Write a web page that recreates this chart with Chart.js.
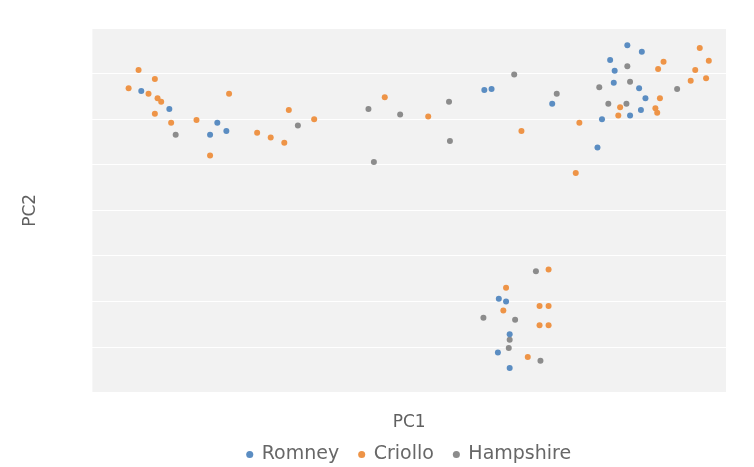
<!DOCTYPE html>
<html>
<head>
<meta charset="utf-8">
<script src="https://cdn.jsdelivr.net/npm/chart.js@4/dist/chart.umd.min.js"></script>
<style>
html,body{margin:0;padding:0;background:#fff;}
#wrap{width:754px;height:467px;}
</style>
</head>
<body>
<div id="wrap"><canvas id="c" width="754" height="467"></canvas></div>
<script>
const seriesNames = ["Romney", "Criollo", "Hampshire"];
const seriesColors = ["#5b8dc2", "#ee9447", "#8c8c8c"];

const romneyPC1 = [-2.96,-2.65,-2.12,-2.20,-2.02,0.83,0.91,1.58,2.08,2.41,2.57,2.22,2.27,2.26,2.54,2.61,2.56,2.44,2.13,0.99,1.07,1.11,1.11,0.98];
const romneyPC2 = [1.31,1.11,0.96,0.83,0.87,1.32,1.33,1.17,0.69,1.81,1.74,1.65,1.53,1.40,1.34,1.23,1.10,1.04,1.00,-0.97,-1.00,-1.36,-1.73,-1.56];

const criolloPC1 = [-2.99,-3.10,-2.88,-2.81,-2.78,-2.74,-2.81,-2.63,-2.35,-1.99,-1.68,-1.53,-1.38,-1.05,-0.27,0.21,1.24,1.88,1.84,2.81,2.75,2.77,3.21,3.31,3.16,3.11,3.28,2.33,2.31,2.72,2.74,-2.20,-1.33,1.54,1.07,1.04,1.44,1.54,1.44,1.54,1.31];
const criolloPC2 = [1.54,1.34,1.28,1.44,1.23,1.19,1.06,0.96,0.99,1.28,0.85,0.80,0.74,1.00,1.24,1.03,0.87,0.96,0.41,1.63,1.55,1.23,1.78,1.64,1.54,1.42,1.45,1.13,1.04,1.12,1.07,0.60,1.10,-0.65,-0.85,-1.10,-1.05,-1.05,-1.26,-1.26,-1.61];

const hampshirePC1 = [-2.58,-1.23,-0.45,-0.39,-0.10,0.44,0.45,1.16,1.63,2.41,2.10,2.44,2.96,2.20,2.40,1.40,0.82,1.17,1.11,1.10,1.45];
const hampshirePC2 = [0.83,0.93,1.11,0.53,1.05,1.19,0.76,1.49,1.28,1.58,1.35,1.41,1.33,1.17,1.17,-0.67,-1.18,-1.20,-1.42,-1.51,-1.65];

const axisTitles = {x: "PC1", y: "PC2"};

function toPoints(xs, ys){ return xs.map((x,i)=>({x:x, y:ys[i]})); }

const dataSeries = [
  toPoints(romneyPC1, romneyPC2),
  toPoints(criolloPC1, criolloPC2),
  toPoints(hampshirePC1, hampshirePC2)
];

const plotBg = {
  id: 'plotBg',
  beforeDraw(chart){
    const {ctx, chartArea:a} = chart;
    ctx.save();
    ctx.fillStyle = '#f2f2f2';
    ctx.fillRect(a.left, a.top, a.right - a.left, a.bottom - a.top);
    ctx.restore();
  }
};

const FONT = "'DejaVu Sans', sans-serif";

new Chart(document.getElementById('c'), {
  type: 'scatter',
  data: {
    datasets: seriesNames.map((n,i)=>({
      label: n,
      data: dataSeries[i],
      backgroundColor: seriesColors[i],
      borderColor: seriesColors[i],
      borderWidth: 0,
      pointRadius: 3,
      pointHoverRadius: 3
    }))
  },
  options: {
    responsive: false,
    animation: false,
    layout: {padding: {left: 0, right: 28, top: 28, bottom: -7}},
    plugins: {
      tooltip: {enabled: false},
      legend: {
        position: 'bottom',
        fullSize: false,
        labels: {
          usePointStyle: true,
          pointStyle: 'circle',
          boxWidth: 5,
          boxHeight: 5,
          padding: 20,
          color: '#676767',
          font: {family: FONT, size: 19}
        }
      }
    },
    scales: {
      x: {
        min: -3.5, max: 3.5,
        grid: {display: false, drawTicks: false},
        border: {display: false},
        ticks: {display: false},
        title: {display: true, text: axisTitles.x, color: '#606060',
                font: {family: FONT, size: 17},
                padding: {top: 20, bottom: -8}}
      },
      y: {
        min: -2, max: 2,
        grid: {display: true, drawTicks: false, color: '#ffffff', lineWidth: 1},
        border: {display: false},
        ticks: {display: false, stepSize: 0.5},
        title: {display: true, text: axisTitles.y, color: '#606060',
                font: {family: FONT, size: 17},
                padding: {top: 20, bottom: 52}}
      }
    }
  },
  plugins: [plotBg]
});
</script>
</body>
</html>
